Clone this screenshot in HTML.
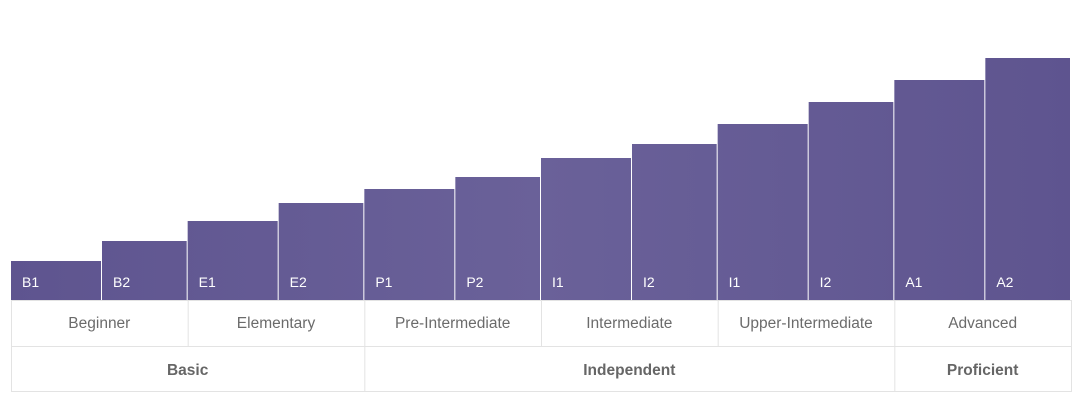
<!DOCTYPE html>
<html><head><meta charset="utf-8"><style>
body{margin:0;background:#fff;width:1080px;height:404px;overflow:hidden;font-family:"Liberation Sans",sans-serif}
</style></head><body>
<svg id="c" width="1080" height="404"></svg>
<script>
const labels=["B1","B2","E1","E2","P1","P2","I1","I2","I1","I2","A1","A2"];
const values=[39,59,79,97,111,123,142,156,176,198,220,242];
const levels=["Beginner","Elementary","Pre-Intermediate","Intermediate","Upper-Intermediate","Advanced"];
const tiers=["Basic","Independent","Proficient"];
const tierSpans=[2,3,1];
const svg=document.getElementById('c');
const NS='http://www.w3.org/2000/svg';
const x0=11,x1=1071,base=300;
const groupW=(x1-x0)/levels.length;
function xs(i){const g=Math.floor(i/2),s=i%2;return x0+g*groupW+(s?91:0);}
function ws(i){return i%2?groupW-91:91;}
function y(v){return base-v;}
function el(t,a,txt){const e=document.createElementNS(NS,t);for(const k in a)e.setAttribute(k,a[k]);if(txt!=null)e.textContent=txt;svg.appendChild(e);return e;}
const defs=el('defs',{});
const g=document.createElementNS(NS,'linearGradient');g.id='gr';
[['0','#5e548f'],['0.5','#6a6199'],['1','#5e548f']].forEach(s=>{const st=document.createElementNS(NS,'stop');st.setAttribute('offset',s[0]);st.setAttribute('stop-color',s[1]);g.appendChild(st);});
g.setAttribute('x1','0');g.setAttribute('x2','1080');g.setAttribute('gradientUnits','userSpaceOnUse');
defs.appendChild(g);
values.forEach((v,i)=>{
 const r=el('rect',{x:xs(i),y:y(v),width:ws(i)-1,height:v,fill:'url(#gr)'});
 
 
 const t=el('text',{x:xs(i)+11,y:base-13,fill:'#fff','font-size':14},labels[i]);
 
 
});
// table
el('rect',{x:x0+0.5,y:300.5,width:x1-x0,height:91,fill:'none',stroke:'#e3e3e3'});
el('line',{x1:x0,x2:x1,y1:346.5,y2:346.5,stroke:'#e3e3e3'});
levels.forEach((l,i)=>{
 const lx=x0+i*groupW;
 if(i>0)el('line',{x1:lx+0.5,x2:lx+0.5,y1:300,y2:346,stroke:'#e3e3e3'});
 const t=el('text',{x:lx+groupW/2,y:328,'text-anchor':'middle',fill:'#6b6b6b','font-size':15.5},l);
 
 
});
let c=0;
tiers.forEach((tn,i)=>{
 const lx=x0+c*groupW,w=tierSpans[i]*groupW;
 if(i>0)el('line',{x1:lx+0.5,x2:lx+0.5,y1:346,y2:392,stroke:'#e3e3e3'});
 const t=el('text',{x:lx+w/2,y:375,'text-anchor':'middle',fill:'#666','font-size':15.5,'font-weight':'bold'},tn);
 
 
 c+=tierSpans[i];
});
</script>
</body></html>
